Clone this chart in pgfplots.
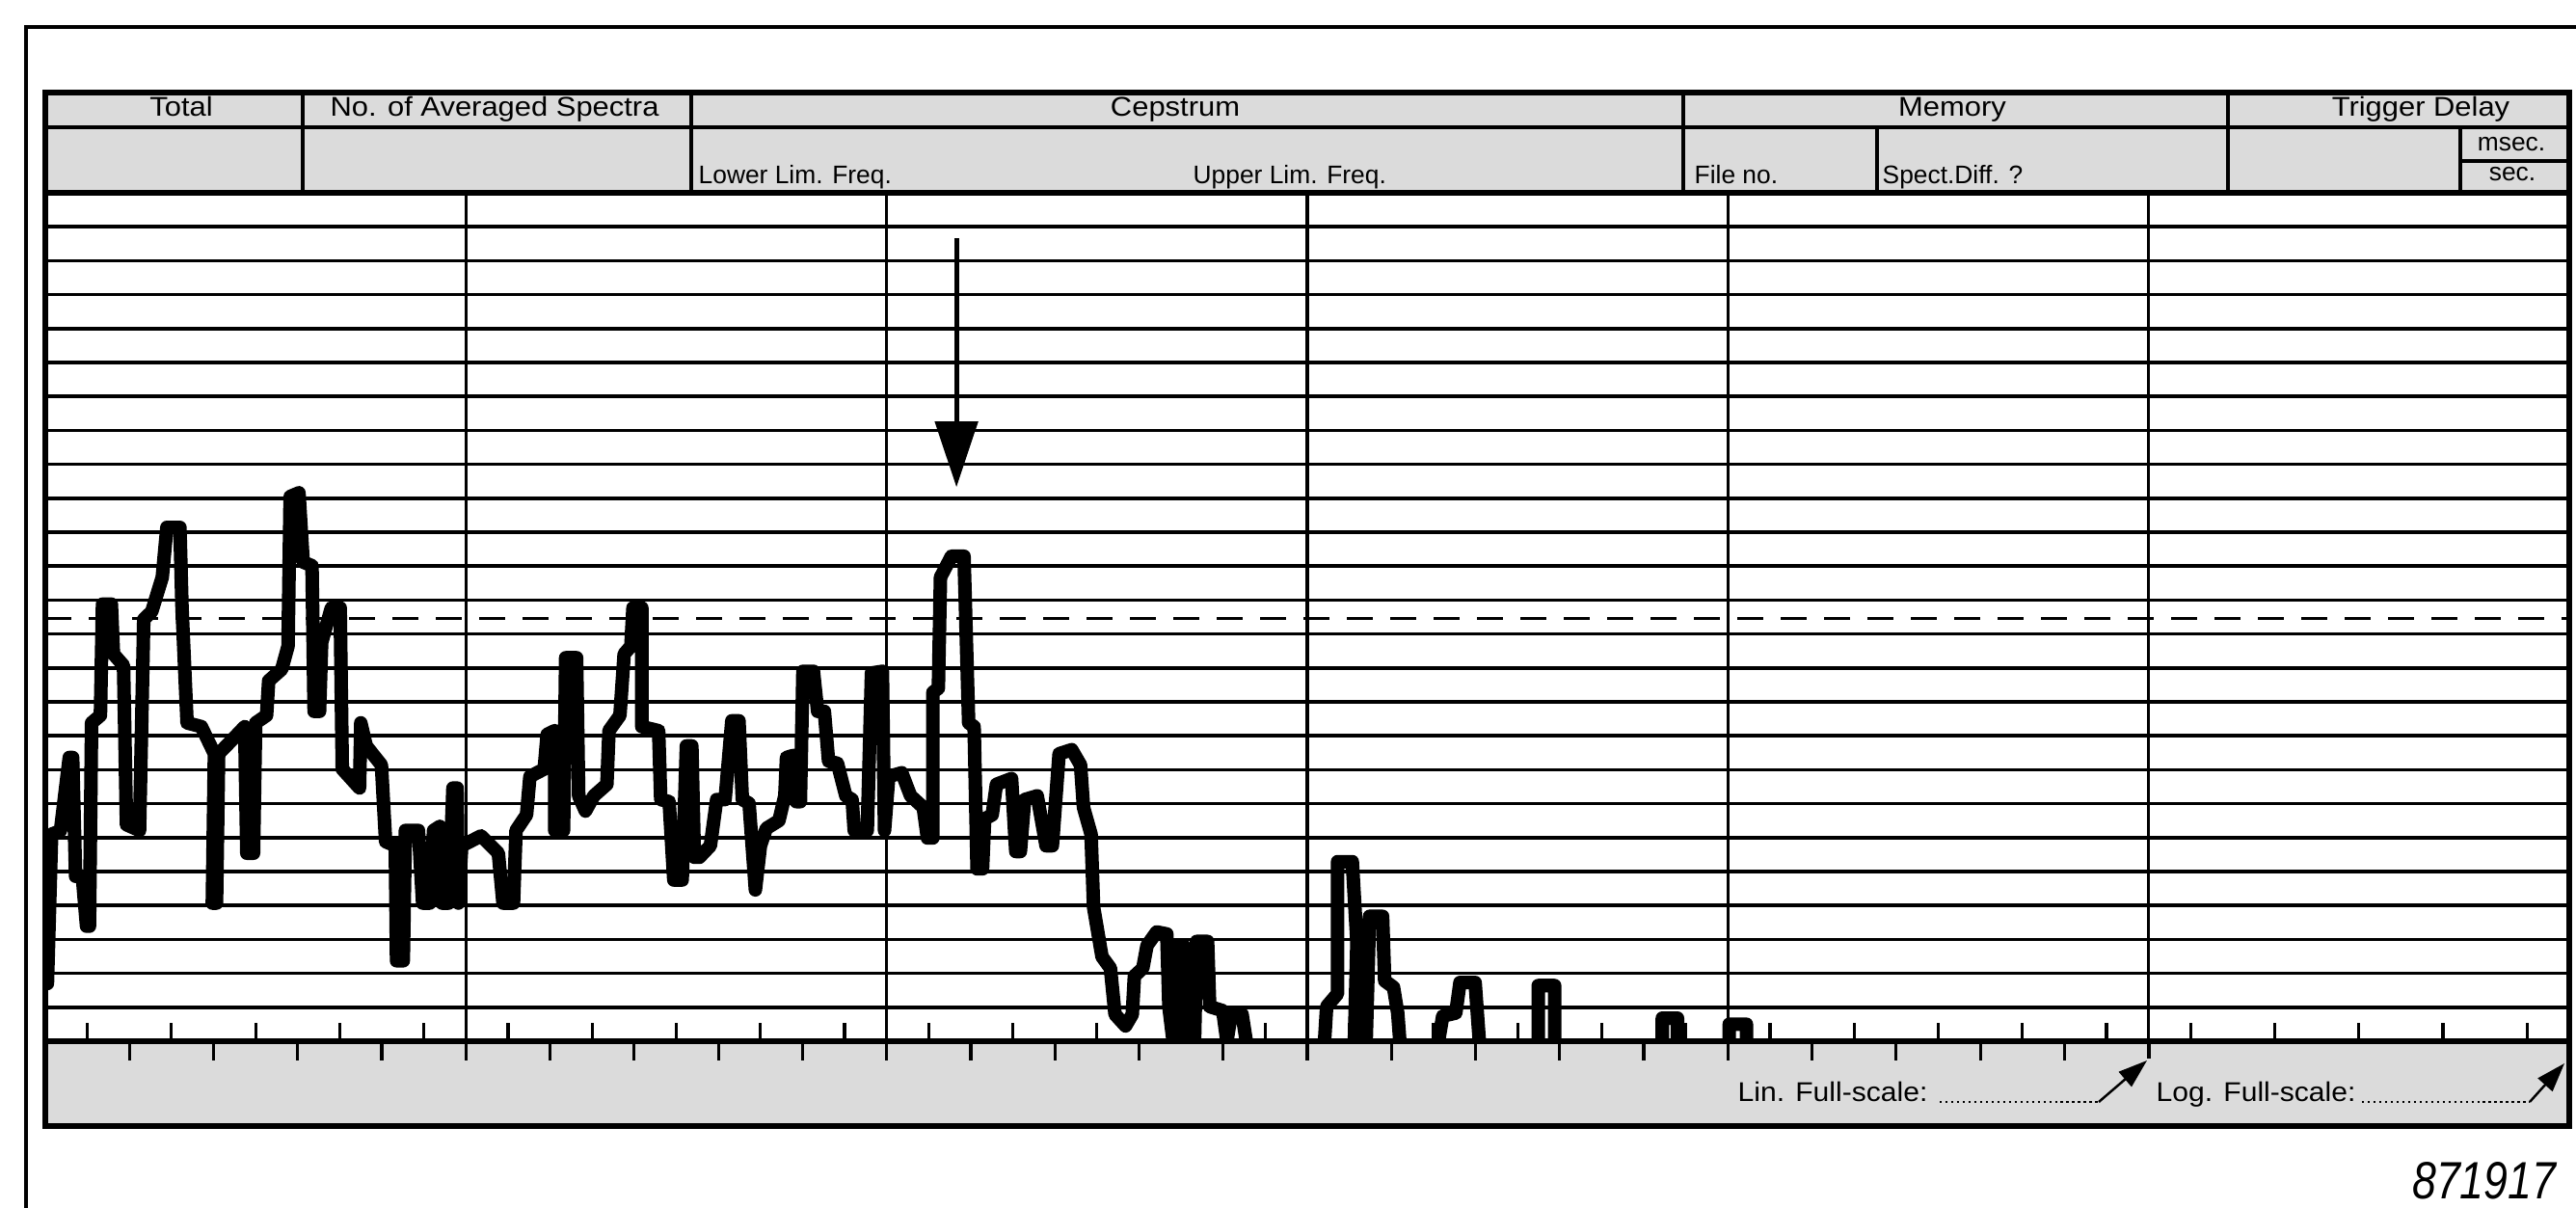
\documentclass[border=0pt]{standalone}
\usepackage{fontspec}
\setmainfont{Liberation Sans}
\usepackage{pgfplots}
\pgfplotsset{compat=1.18}
\usetikzlibrary{arrows.meta}
\definecolor{stip}{gray}{0.86}
\newcommand{\hA}[1]{\scalebox{1.1}[1]{\fontsize{8}{9.6}\selectfont #1}}
\newcommand{\hB}[1]{\scalebox{1.0}[1]{\fontsize{7.5}{9}\selectfont #1}}
\begin{document}
\begin{tikzpicture}[x=1cm,y=1cm]
\path[use as bounding box] (0,0) rectangle (26.72,12.53);
\fill[white] (0,0) rectangle (26.72,12.53);
% outer frame
\draw[line width=1.4pt] (0.27,0) -- (0.27,12.25) -- (26.72,12.25);
% header
\fill[stip] (0.47,10.53) rectangle (26.65,11.57);
\draw[line width=1.3pt] (0.47,11.21) -- (26.65,11.21);
\foreach \x in {3.14,7.17,17.46,23.11} \draw[line width=1pt] (\x,10.53) -- (\x,11.57);
\foreach \x in {19.47,25.52} \draw[line width=1pt] (\x,10.53) -- (\x,11.21);
\draw[line width=1pt] (25.52,10.86) -- (26.65,10.86);
\draw[line width=1.6pt] (0.47,10.53) rectangle (26.65,11.57);
\node[anchor=base,inner sep=0pt] at (1.88,11.32) {\hA{Total}};
\node[anchor=base,inner sep=0pt] at (5.13,11.32) {\hA{No. of Averaged Spectra}};
\node[anchor=base,inner sep=0pt] at (12.19,11.32) {\hA{Cepstrum}};
\node[anchor=base,inner sep=0pt] at (20.25,11.32) {\hA{Memory}};
\node[anchor=base,inner sep=0pt] at (25.11,11.32) {\hA{Trigger Delay}};
\node[anchor=base west,inner sep=0pt] at (7.24,10.62) {\hB{Lower Lim. Freq.}};
\node[anchor=base west,inner sep=0pt] at (12.37,10.62) {\hB{Upper Lim. Freq.}};
\node[anchor=base west,inner sep=0pt] at (17.57,10.62) {\hB{File no.}};
\node[anchor=base west,inner sep=0pt] at (19.52,10.62) {\hB{Spect.Diff. ?}};
\node[anchor=base,inner sep=0pt] at (26.05,10.96) {\hB{msec.}};
\node[anchor=base,inner sep=0pt] at (26.06,10.65) {\hB{sec.}};
% bottom strip
\fill[stip] (0.47,0.85) rectangle (26.65,1.73);
\draw[line width=1.6pt] (0.47,0.85) rectangle (26.65,1.73);
\foreach \k in {1,3,...,59} \draw[line width=0.9pt] ({0.47+0.43633*\k},1.73) -- ++(0,0.19);
\foreach \d in {0,...,4} \foreach \j in {2,4,6,8} \draw[line width=0.9pt] ({0.47+0.43633*(10*\d+\j)},1.73) -- ++(0,-0.2);
\foreach \m in {1,...,4} \draw[line width=1pt] ({0.47+4.3633*\m},1.73) -- ++(0,-0.2);
\draw[line width=1pt] (22.29,1.73) -- (22.29,1.55);
\node[anchor=base west,inner sep=0pt] at (18.02,1.10) {\scalebox{1.07}[1]{\fontsize{8}{9.6}\selectfont Lin. Full-scale:}};
\draw[line width=0.7pt, densely dotted] (20.12,1.10) -- (21.77,1.10);
\draw[line width=0.7pt, -{Triangle[length=3mm,width=2mm]}] (21.77,1.10) -- (22.27,1.53);
\node[anchor=base west,inner sep=0pt] at (22.36,1.10) {\scalebox{1.07}[1]{\fontsize{8}{9.6}\selectfont Log. Full-scale:}};
\draw[line width=0.7pt, densely dotted] (24.50,1.10) -- (26.24,1.10);
\draw[line width=0.7pt, -{Triangle[length=3mm,width=2mm]}] (26.24,1.10) -- (26.60,1.50);
\node[anchor=base east,inner sep=0pt] at (26.52,0.09) {\scalebox{0.82}[1]{\fontsize{15.5}{18}\selectfont\itshape 871917}};
% plot area
\begin{axis}[
  at={(0.47cm,1.73cm)}, anchor=south west,
  scale only axis, width=26.18cm, height=8.80cm,
  xmin=0, xmax=600, ymin=0, ymax=25,
  xtick={0,100,...,600}, ytick={0,1,...,25},
  xticklabels={}, yticklabels={},
  major tick length=0pt,
  grid=major, major grid style={black, line width=1pt},
  axis line style={black, line width=1.5pt},
  unbounded coords=jump,
]
\addplot[black, line width=4pt, line join=round, line cap=round] table {
x y
0.5 1.7
1.5 6.1
3.6 6.2
5.7 8.36
6.5 8.36
7.2 4.86
8.8 4.86
9.8 3.39
10.5 3.39
11.0 9.38
13.1 9.60
13.6 12.88
15.7 12.88
16.2 11.41
18.6 11.07
19.3 6.38
22.4 6.21
23.4 12.43
25.3 12.66
27.8 13.67
28.9 15.14
32.0 15.14
32.5 12.77
33.7 9.38
37.1 9.27
40.2 8.47
39.7 4.07
40.7 4.07
41.2 8.47
44.8 8.93
47.4 9.27
47.9 5.54
49.5 5.54
50.0 9.38
52.6 9.60
53.1 10.62
56.2 10.96
57.7 11.64
58.2 16.05
60.3 16.16
61.3 14.12
63.4 14.01
63.9 9.72
65.2 9.72
65.7 11.75
68.0 12.77
70.1 12.77
70.6 8.02
74.7 7.46
75.0 9.38
76.3 8.70
79.9 8.14
80.9 5.88
83.2 5.76
83.5 2.37
85.1 2.37
85.6 6.21
88.7 6.21
89.7 4.07
91.4 4.07
92.3 6.21
93.8 6.33
94.3 4.07
95.9 4.07
96.9 7.46
97.9 7.46
98.2 4.07
99.0 5.76
103.6 6.05
107.7 5.54
108.8 4.07
111.3 4.07
111.9 6.21
114.4 6.67
115.2 7.80
118.6 8.02
119.3 9.04
121.1 9.15
121.1 6.21
123.2 6.21
123.7 11.30
126.3 11.30
126.8 7.23
128.4 6.78
130.4 7.23
133.5 7.57
134.0 9.15
136.6 9.60
137.6 11.41
139.2 11.64
139.7 12.77
141.8 12.77
141.8 9.27
145.8 9.15
146.3 7.12
148.3 7.06
149.4 4.75
151.4 4.75
152.4 8.70
153.7 8.70
154.3 5.42
155.5 5.42
158.1 5.76
159.6 7.12
161.6 7.12
163.2 9.44
164.9 9.44
165.7 7.12
167.3 7.01
168.8 4.46
170.0 5.76
171.4 6.27
174.4 6.50
175.8 7.23
176.2 8.36
177.8 8.42
178.5 7.06
179.5 7.06
180.1 10.90
182.6 10.90
183.6 9.72
185.2 9.72
186.2 8.25
188.3 8.19
190.3 7.23
191.8 7.12
192.3 6.21
195.4 6.21
196.4 10.85
199.0 10.90
199.5 6.21
200.5 7.80
203.6 7.91
205.7 7.23
208.7 6.89
209.7 5.99
211.0 5.99
211.0 10.28
212.3 10.40
212.8 13.67
215.4 14.29
218.4 14.29
219.5 9.38
220.8 9.27
221.5 5.08
222.8 5.08
223.3 6.55
225.1 6.67
226.1 7.57
229.7 7.74
230.7 5.59
231.8 5.59
232.8 7.12
235.8 7.23
237.9 5.76
239.4 5.76
241.0 8.47
244.0 8.59
246.1 8.14
246.8 6.89
248.6 6.10
249.2 3.95
251.2 2.49
253.2 2.15
254.3 0.79
256.8 0.45
258.4 0.79
258.9 1.92
260.9 2.15
261.9 2.82
264.2 3.22
266.6 3.16
267.1 1.02
268.1 0.0
269.1 2.82
270.6 2.82
271.2 0.0
273.2 0.0
273.7 2.94
276.3 2.94
276.8 1.02
279.9 0.90
280.9 0.0
281.9 0.79
284.5 0.79
285.5 0.0
nan nan
304.1 0.0
304.6 1.02
307.2 1.40
307.2 5.29
310.7 5.29
311.8 2.92
311.2 0.0
314.0 0.0
314.8 3.68
317.9 3.68
318.4 1.78
320.5 1.59
321.5 0.83
322.0 0.0
nan nan
331.2 0.0
332.2 0.74
335.3 0.83
336.3 1.73
339.9 1.73
340.9 0.0
nan nan
354.9 0.0
354.9 1.64
358.8 1.64
358.8 0.0
nan nan
384.4 0.0
384.4 0.68
388.0 0.68
388.0 0.0
nan nan
400.3 0.0
400.3 0.50
404.4 0.50
404.4 0.0
};
\addplot[black, line width=0.9pt, dash pattern=on 2.7mm off 1.8mm] coordinates {(0,12.45) (600,12.45)};
\draw[line width=1.4pt, -{Triangle[length=6.8mm,width=4.4mm]}] (axis cs:216.6,23.66) -- (axis cs:216.6,16.33);
\end{axis}
\end{tikzpicture}
\end{document}
